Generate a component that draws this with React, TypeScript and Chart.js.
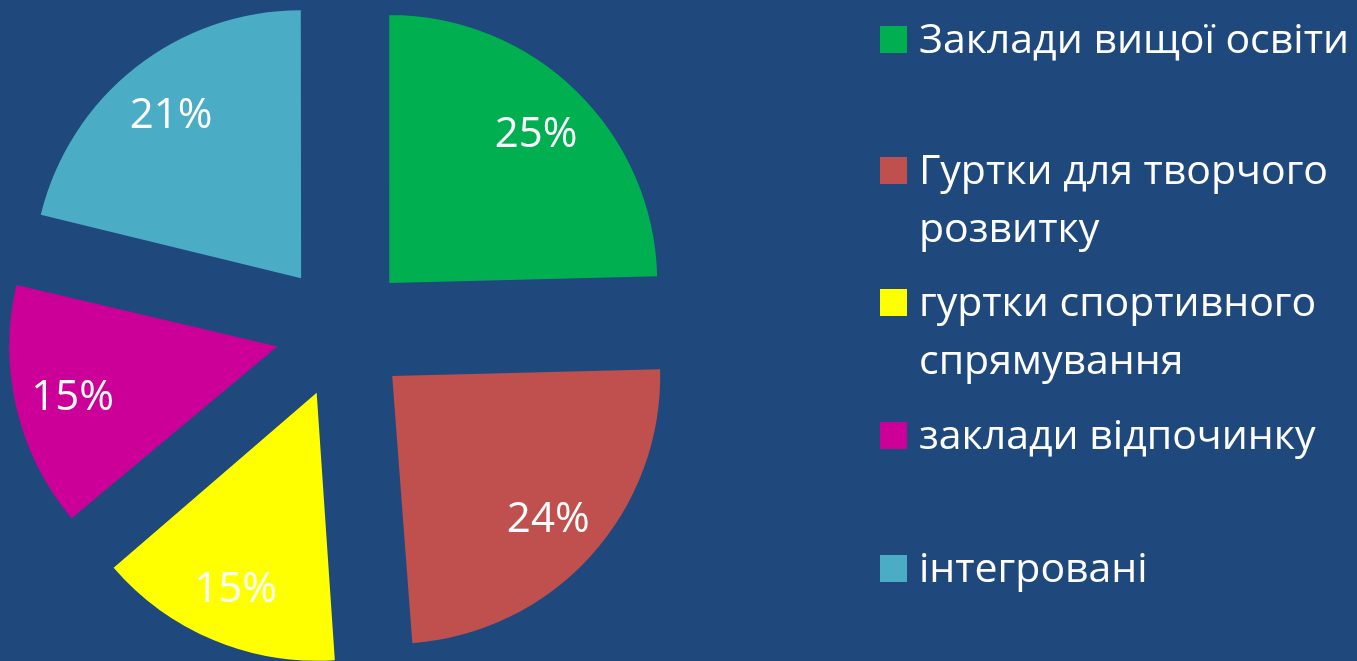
import React, { useEffect, useRef } from "react";
import { Chart, registerables } from "chart.js";

Chart.register(...registerables);

// ---- data ----
const categories = [
  "Заклади вищої освіти",
  "Гуртки для творчого розвитку",
  "гуртки спортивного спрямування",
  "заклади відпочинку",
  "інтегровані",
];
const shares = [24.6, 24.2, 15.0, 15.0, 21.2];
const colors = ["#00B050", "#C0504D", "#FFFF00", "#CC0099", "#4BACC6"];

// ---- style ----
const BG = "#1F497D";
const FONT = "'Open Sans', 'Noto Sans', sans-serif";
const W = 1357;
const H = 661;
const RADIUS = 268;
const OFFSET = 268; // Chart.js translates each slice by offset / 4
const LABEL_FONT = 42;
const LEGEND_FONT = 41;
const LEGEND_LINE = 58.7;
const legendBaselines = [53, 184, 316, 449, 582];

const radiusFix = {
  id: "radiusFix",
  beforeDatasetsDraw(chart: any) {
    const meta = chart.getDatasetMeta(0);
    meta.data.forEach((arc: any) => {
      const off = (arc.options.offset || 0) / 4;
      const fix = 1 - Math.sin(Math.min(Math.PI, arc.circumference));
      arc.outerRadius = RADIUS - off * fix;
    });
  },
};

const pctLabels = {
  id: "pctLabels",
  afterDatasetsDraw(chart: any) {
    const ctx = chart.ctx;
    const meta = chart.getDatasetMeta(0);
    const total = shares.reduce((a, b) => a + b, 0);
    ctx.save();
    ctx.fillStyle = "#FFFFFF";
    ctx.font = `${LABEL_FONT}px ${FONT}`;
    ctx.textAlign = "center";
    ctx.textBaseline = "alphabetic";
    meta.data.forEach((arc: any, i: number) => {
      const mid = (arc.startAngle + arc.endAngle) / 2;
      const off = (arc.options.offset || 0) / 4;
      const d = off + 0.785 * RADIUS;
      const x = arc.x + Math.cos(mid) * d;
      const y = arc.y + Math.sin(mid) * d;
      ctx.fillText(Math.round((shares[i] / total) * 100) + "%", x, y + 0.357 * LABEL_FONT);
    });
    ctx.restore();
  },
};

export default function App() {
  const ref = useRef<HTMLCanvasElement | null>(null);

  useEffect(() => {
    document.body.style.margin = "0";
    document.body.style.background = BG;
    if (!ref.current) return;
    const chart = new Chart(ref.current, {
      type: "pie",
      data: {
        labels: categories,
        datasets: [
          {
            data: shares,
            backgroundColor: colors,
            borderWidth: 0,
            offset: OFFSET,
            radius: RADIUS,
            clip: false,
          } as any,
        ],
      },
      options: {
        animation: false,
        responsive: false,
        events: [],
        layout: { padding: { left: 0, top: 1, right: W - 685, bottom: 0 } },
        plugins: {
          legend: { display: false },
          tooltip: { enabled: false },
        },
      },
      plugins: [radiusFix, pctLabels],
    });
    return () => chart.destroy();
  }, []);

  const baseOff = (LEGEND_LINE - 1.362 * LEGEND_FONT) / 2 + 1.069 * LEGEND_FONT;

  return (
    <div
      style={{
        position: "fixed",
        left: 0,
        top: 0,
        width: W,
        height: H,
        background: BG,
        overflow: "hidden",
      }}
    >
      <canvas ref={ref} width={W} height={H} style={{ position: "absolute", left: 0, top: 0 }} />
      {categories.map((c, i) => (
        <React.Fragment key={c}>
          <div
            style={{
              position: "absolute",
              left: 880,
              top: legendBaselines[i] - 27,
              width: 27,
              height: 27,
              background: colors[i],
            }}
          />
          <div
            style={{
              position: "absolute",
              left: 919,
              top: legendBaselines[i] - baseOff,
              width: 438,
              color: "#FFFFFF",
              fontFamily: FONT,
              fontSize: LEGEND_FONT,
              lineHeight: `${LEGEND_LINE}px`,
              whiteSpace: "normal",
            }}
          >
            {c}
          </div>
        </React.Fragment>
      ))}
    </div>
  );
}
